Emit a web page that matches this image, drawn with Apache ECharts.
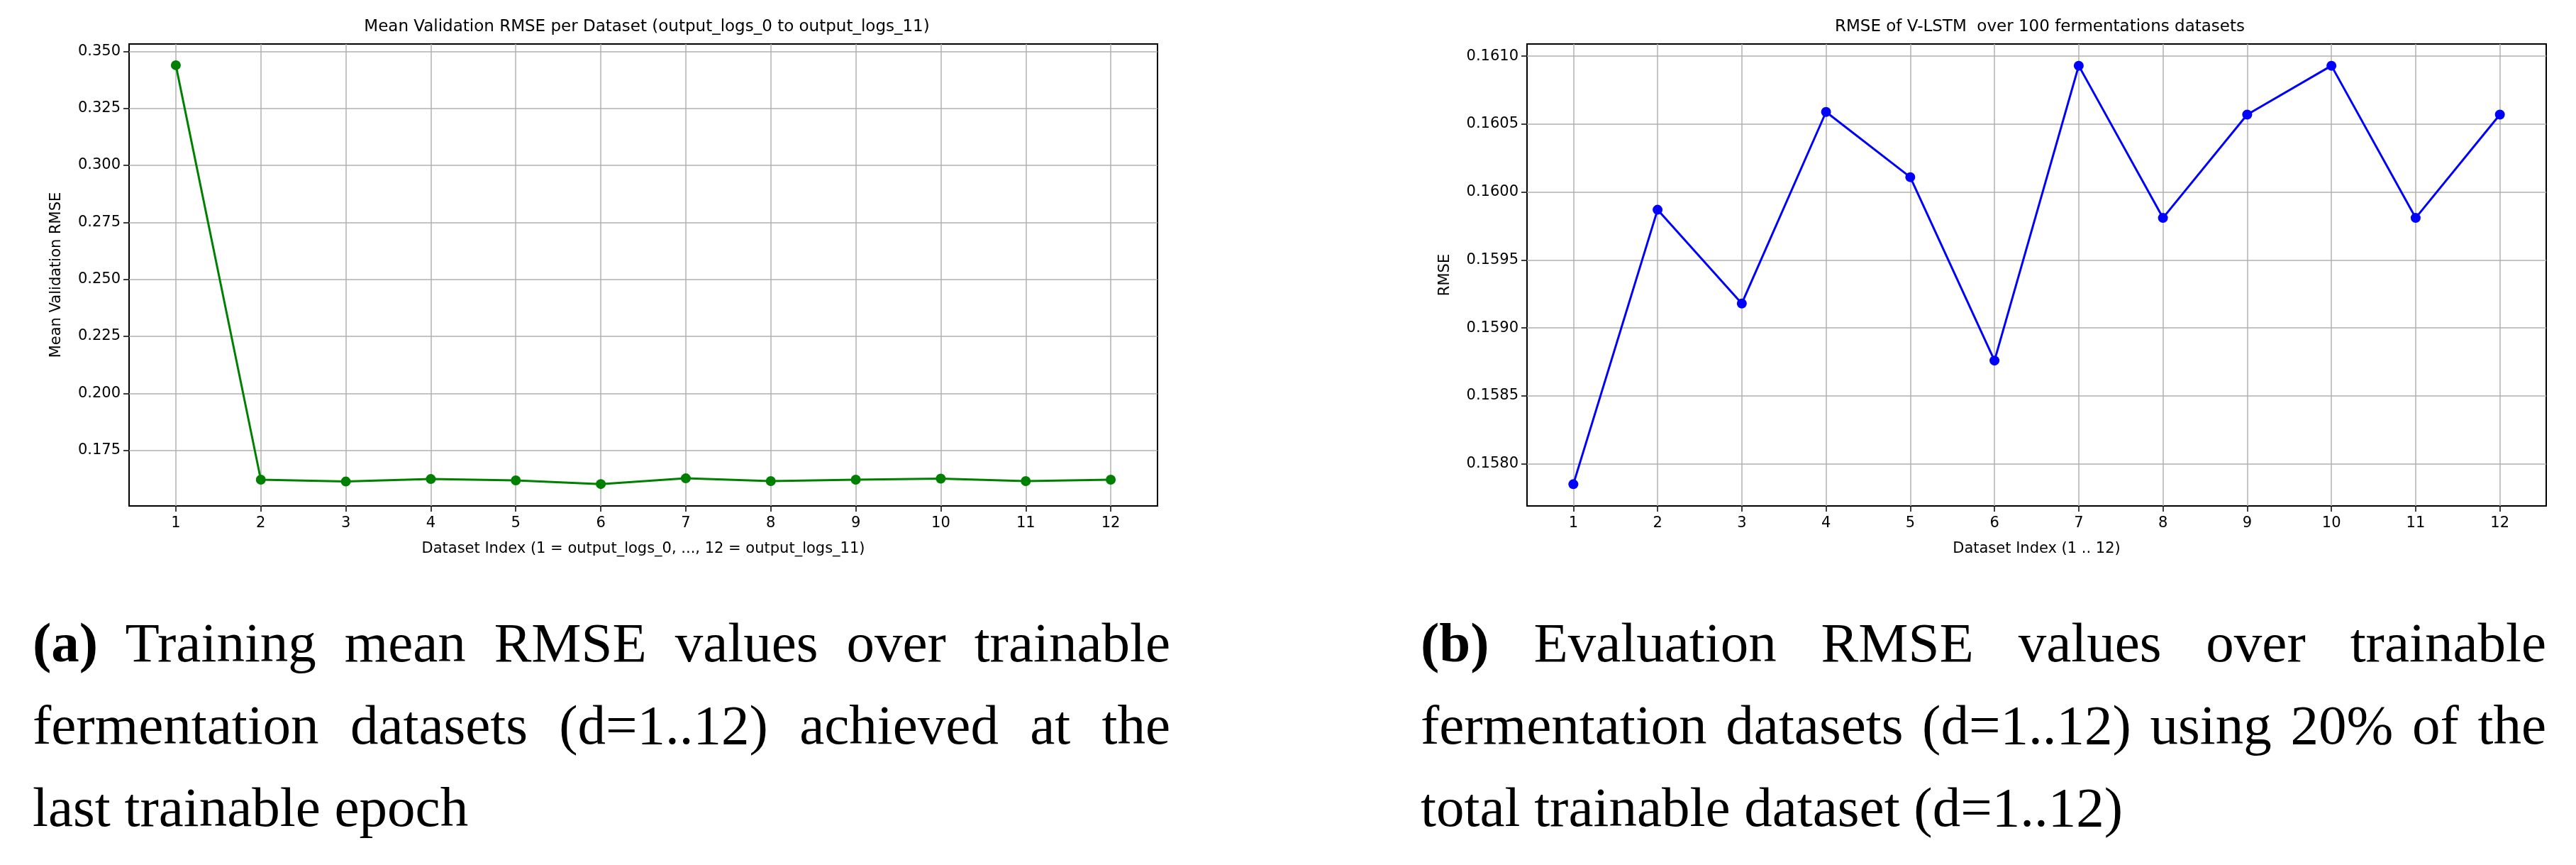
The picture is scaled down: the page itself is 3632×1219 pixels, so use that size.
<!DOCTYPE html>
<html>
<head>
<meta charset="utf-8">
<script src="https://cdn.jsdelivr.net/npm/echarts@6/dist/echarts.min.js"></script>
<style>
  body { margin: 0; background: #fff; }
  #chart { position: absolute; left: 0; top: 0; width: 3632px; height: 800px; }
  .cap { position: absolute; font-family: "Liberation Serif", serif; font-size: 79px;
         line-height: 116px; text-align: justify; color: #000; }
  .cap b { font-weight: bold; }
</style>
</head>
<body>
<div id="chart"></div>
<div class="cap" style="left:46px; top:848px; width:1604px;"><b>(a)</b> Training mean RMSE values over trainable fermentation datasets (d=1..12) achieved at the last trainable epoch</div>
<div class="cap" style="left:2003px; top:848px; width:1587px;"><b>(b)</b> Evaluation RMSE values over trainable fermentation datasets (d=1..12) using 20% of the total trainable dataset (d=1..12)</div>
<script>
var dataset_idx = [1, 2, 3, 4, 5, 6, 7, 8, 9, 10, 11, 12];
var train_rmse = [0.3439, 0.1621, 0.1613, 0.1624, 0.1618, 0.1602, 0.1627, 0.1615, 0.1621, 0.1626, 0.1615, 0.1621];
var eval_rmse = [0.15785, 0.15987, 0.15918, 0.16059, 0.16011, 0.15876, 0.16093, 0.15981, 0.16057, 0.16093, 0.15981, 0.16057];
var left_ticks = [0.175, 0.200, 0.225, 0.250, 0.275, 0.300, 0.325, 0.350];
var right_ticks = [0.1580, 0.1585, 0.1590, 0.1595, 0.1600, 0.1605, 0.1610];

var chart = echarts.init(document.getElementById("chart"));
var font = "DejaVu Sans";
var x_min = 0.45, x_max = 12.55;

function pts(vals) {
    return vals.map(function (v, i) { return [dataset_idx[i], v]; });
}

function xaxis(gi, name) {
    return {
        type: 'value', gridIndex: gi, min: x_min, max: x_max, name: name,
        nameLocation: 'middle', nameGap: 50,
        nameTextStyle: { fontFamily: font, fontSize: 21, color: '#000' },
        axisLine: { show: true, onZero: false, lineStyle: { color: '#000', width: 2 } },
        axisTick: { show: true, customValues: dataset_idx, length: 8, lineStyle: { color: '#000', width: 1.5 } },
        axisLabel: { customValues: dataset_idx, fontFamily: font, fontSize: 21, color: '#000', margin: 14 },
        splitLine: { show: false }
    };
}

function yaxis(gi, ticks, min, max, name, digits) {
    return {
        type: 'value', gridIndex: gi, min: min, max: max, name: name,
        nameLocation: 'middle', nameGap: digits == 3 ? 92 : 105,
        nameTextStyle: { fontFamily: font, fontSize: 21, color: '#000' },
        axisLine: { show: true, lineStyle: { color: '#000', width: 2 } },
        axisTick: { show: true, customValues: ticks, length: 8, lineStyle: { color: '#000', width: 1.5 } },
        axisLabel: { customValues: ticks, fontFamily: font, fontSize: 21, color: '#000', margin: 12,
                     formatter: function (v) { return v.toFixed(digits); } },
        splitLine: { show: false }
    };
}

// grid lines drawn through the scales with markLine
function gridLines(ticks) {
    var d = dataset_idx.map(function (x) { return { xAxis: x }; });
    ticks.forEach(function (t) { d.push([{ coord: [x_min, t] }, { coord: [x_max, t] }]); });
    return { silent: true, symbol: 'none', label: { show: false },
             lineStyle: { color: '#b0b0b0', width: 1.5, type: 'solid' }, data: d };
}

function series(gi, vals, color, ticks) {
    return {
        type: 'line', xAxisIndex: gi, yAxisIndex: gi, data: pts(vals),
        symbol: 'circle', symbolSize: 14, animation: false,
        lineStyle: { color: color, width: 3 }, itemStyle: { color: color },
        markLine: gridLines(ticks), z: 5
    };
}

var option = {
    animation: false,
    title: [
        { text: 'Mean Validation RMSE per Dataset (output_logs_0 to output_logs_11)', left: 907, top: 22, textAlign: 'center',
          textStyle: { fontFamily: font, fontSize: 23, fontWeight: 'normal', color: '#000' } },
        { text: 'RMSE of V-LSTM  over 100 fermentations datasets', left: 2871, top: 22, textAlign: 'center',
          textStyle: { fontFamily: font, fontSize: 23, fontWeight: 'normal', color: '#000' } }
    ],
    grid: [
        { left: 182, width: 1450, top: 62, height: 651, show: true, borderColor: '#000', borderWidth: 2 },
        { left: 2153, width: 1437, top: 62, height: 651, show: true, borderColor: '#000', borderWidth: 2 }
    ],
    xAxis: [xaxis(0, 'Dataset Index (1 = output_logs_0, ..., 12 = output_logs_11)'), xaxis(1, 'Dataset Index (1 .. 12)')],
    yAxis: [yaxis(0, left_ticks, 0.1506, 0.3532, 'Mean Validation RMSE', 3),
            yaxis(1, right_ticks, 0.15769, 0.16109, 'RMSE', 4)],
    series: [series(0, train_rmse, '#008000', left_ticks), series(1, eval_rmse, '#0000ff', right_ticks)]
};
chart.setOption(option);
</script>
</body>
</html>
